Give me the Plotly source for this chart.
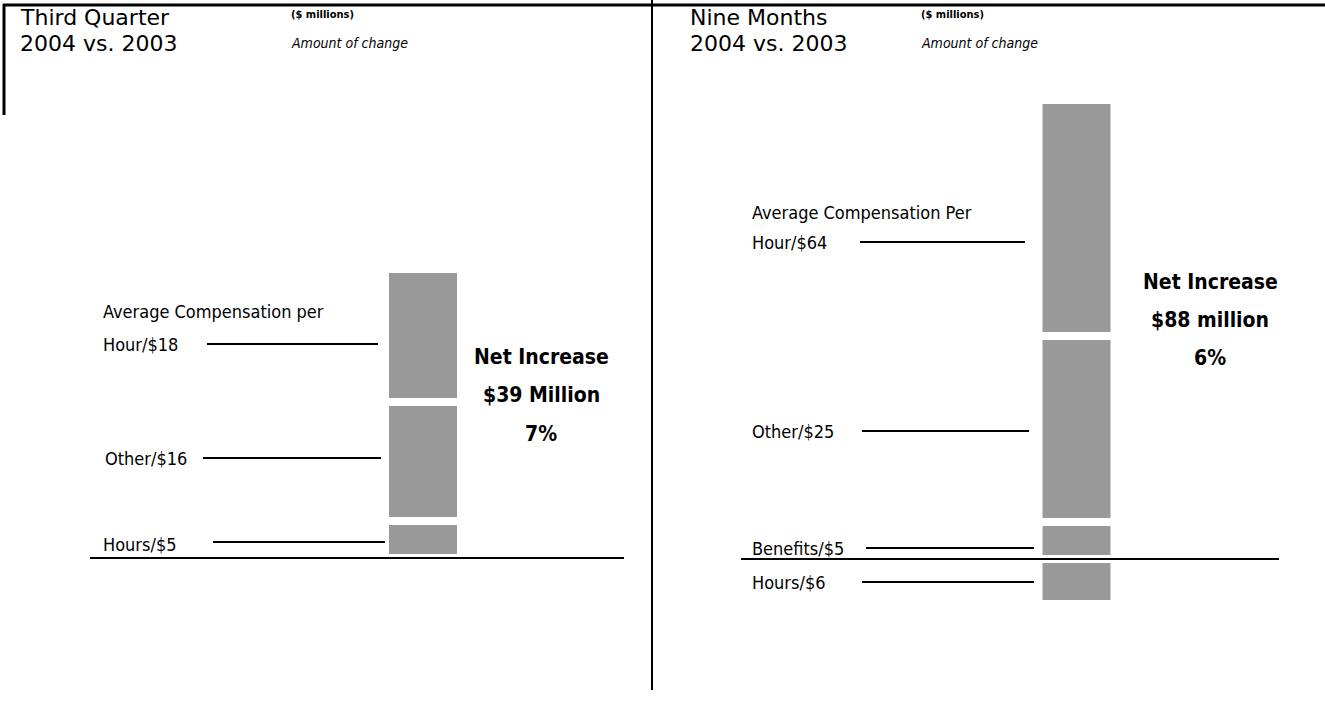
import plotly.graph_objects as go

# ---------------- data ----------------
q3_categories = ["Hours", "Other", "Average Compensation per Hour"]
q3_values = [5, 16, 18]
q3_labels = ["Hours/$5", "Other/$16", "Average Compensation per<br>Hour/$18"]
q3_net = ["Net Increase", "$39 Million", "7%"]

nm_categories = ["Hours", "Benefits", "Other", "Average Compensation Per Hour"]
nm_values = [-6, 5, 25, 64]
nm_labels = ["Hours/$6", "Benefits/$5", "Other/$25", "Average Compensation Per<br>Hour/$64"]
nm_net = ["Net Increase", "$88 million", "6%"]

panel_titles = [["Third Quarter", "2004 vs. 2003"], ["Nine Months", "2004 vs. 2003"]]
unit_note = "($ millions)"
sub_note = "Amount of change"

# ---------------- layout helpers ----------------
W, H = 1325, 719
def fx(p):
    return p / W
def fy(p):
    return 1 - p / H

BAR = "#999999"
LABEL_FONT = "Liberation Sans Narrow, DejaVu Sans Condensed, Arial Narrow, sans-serif"
TITLE_FONT = "DejaVu Sans, sans-serif"

fig = go.Figure()

for cat, v in zip(q3_categories, q3_values):
    fig.add_trace(go.Bar(x=["Q3"], y=[v], name=cat, width=0.76,
                         marker=dict(color=BAR, line=dict(color="white", width=8)),
                         xaxis="x", yaxis="y", showlegend=False, hoverinfo="skip"))
for cat, v in zip(nm_categories, nm_values):
    fig.add_trace(go.Bar(x=["9M"], y=[v], name=cat, width=0.76,
                         marker=dict(color=BAR, line=dict(color="white", width=8)),
                         xaxis="x2", yaxis="y2", showlegend=False, hoverinfo="skip"))

s1, base1 = 7.41, 558
s2, base2 = 7.45, 559
top1, top2, bot = 100, 104, 700

ax = dict(visible=False, showgrid=False, zeroline=False, fixedrange=True)
fig.update_layout(
    width=W, height=H, margin=dict(l=0, r=0, t=0, b=0),
    paper_bgcolor="white", plot_bgcolor="rgba(0,0,0,0)",
    barmode="relative", bargap=0,
    xaxis=dict(ax, domain=[fx(373), fx(473)], range=[-0.5, 0.5]),
    yaxis=dict(ax, domain=[fy(bot), fy(top1)], range=[-(bot - base1) / s1, (base1 - top1) / s1]),
    xaxis2=dict(ax, domain=[fx(1026.5), fx(1126.5)], range=[-0.5, 0.5]),
    yaxis2=dict(ax, anchor="x2", domain=[fy(bot), fy(top2)], range=[-(bot - base2) / s2, (base2 - top2) / s2]),
)

def line(x0, y0, x1, y1, w=2):
    fig.add_shape(type="line", xref="paper", yref="paper",
                  x0=fx(x0), y0=fy(y0), x1=fx(x1), y1=fy(y1),
                  line=dict(color="black", width=w), layer="above")

def text(x, y, t, size, family=LABEL_FONT, anchor="left", color="black"):
    fig.add_annotation(xref="paper", yref="paper", x=fx(x), y=fy(y), text=t,
                       showarrow=False, xanchor=anchor, yanchor="middle",
                       align=anchor if anchor != "center" else "center",
                       borderpad=0,
                       font=dict(family=family, size=size, color=color))

# frame lines
line(3, 5, W, 5, 3)
line(4, 4, 4, 115, 3)
line(652, 0, 652, 690, 2)

# baselines
line(90, base1, 624, base1, 2)
line(741, base2, 1279, base2, 2)

# titles
for (t1, t2), xt, xn in zip(panel_titles, [20, 690], [290, 920]):
    text(xt - 1, 17.6, t1, 22, TITLE_FONT)
    text(xt - 1, 43.4, t2, 22, TITLE_FONT)
    text(xn, 15, "<b>" + unit_note + "</b>", 11)
    text(xn, 43, "<i>" + sub_note + "</i>", 14)

def label(lab, lx, ys):
    for part, yy in zip(lab.split("<br>"), ys):
        text(lx, yy, part, 18, anchor="left")

# left labels & leaders
q3_label_pos = [(102, [544]), (104, [458]), (102, [311, 344])]
q3_leaders = [(213, 385, 542), (203, 381, 458), (207, 378, 344)]
for lab, (lx, ys), (a, b, yy) in zip(q3_labels, q3_label_pos, q3_leaders):
    label(lab, lx, ys)
    line(a, yy, b, yy, 2)

nm_label_pos = [(751, [582]), (751, [548]), (751, [431]), (751, [212, 242])]
nm_leaders = [(862, 1034, 582), (866, 1034, 548), (862, 1029, 431), (860, 1025, 242)]
for lab, (lx, ys), (a, b, yy) in zip(nm_labels, nm_label_pos, nm_leaders):
    label(lab, lx, ys)
    line(a, yy, b, yy, 2)

# net increase blocks
for lines_, cx, ys in [(q3_net, 541, [357, 395, 434]), (nm_net, 1210, [282, 320, 358])]:
    for t, yy in zip(lines_, ys):
        text(cx, yy, "<b>" + t + "</b>", 21, anchor="center")

fig.write_html("out.html", config={"displayModeBar": False},
               post_script="document.body.style.margin='0px';")
